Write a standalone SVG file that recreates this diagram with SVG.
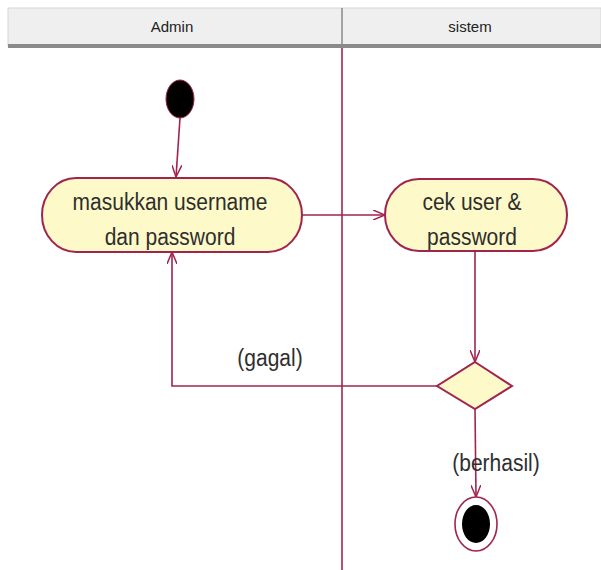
<svg xmlns="http://www.w3.org/2000/svg" width="601" height="570" viewBox="0 0 601 570">
  <style>
    .line { fill: none; stroke: #a1244f; stroke-width: 1.6; }
    .act { fill: #fdf9c9; stroke: #a1244f; stroke-width: 2; }
    .lbl { font-family: "Liberation Sans", Arial, sans-serif; font-size: 21px; fill: #2e2e2e; text-anchor: middle; }
    .hdr { font-family: "Liberation Sans", Arial, sans-serif; font-size: 15px; fill: #222; text-anchor: middle; }
  </style>
  <defs>
    <marker id="open" viewBox="0 0 12 10" refX="12" refY="5" markerWidth="12" markerHeight="10" markerUnits="userSpaceOnUse" orient="auto">
      <path d="M0,0 L12,5 L0,10" fill="none" stroke="#a1244f" stroke-width="1.5"/>
    </marker>
  </defs>
  <rect width="601" height="570" fill="#ffffff"/>

  <!-- swimlane header -->
  <g id="lanes">
    <rect x="8" y="8" width="593" height="38" fill="#efefef" stroke="#d6d6d6" stroke-width="1"/>
    <rect x="8" y="44" width="593" height="4" fill="#8a8a8a"/>
    <line x1="342" y1="8" x2="342" y2="46" stroke="#8a8a8a" stroke-width="1.5"/>
    <text class="hdr" x="172" y="32">Admin</text>
    <text class="hdr" x="470" y="32">sistem</text>
    <line class="line" x1="342" y1="48" x2="342" y2="570"/>
  </g>

  <!-- connectors -->
  <g id="connectors">
    <path class="line" d="M180,118 L176,177" marker-end="url(#open)"/>
    <path class="line" d="M302,215 L385,215" marker-end="url(#open)"/>
    <path class="line" d="M475,251 L475,362" marker-end="url(#open)"/>
    <path class="line" d="M437,386 L172,386 L172,252" marker-end="url(#open)"/>
    <path class="line" d="M475,408 L476,497" marker-end="url(#open)"/>
    <text class="lbl" transform="translate(270,366) scale(1,1.15)">(gagal)</text>
    <text class="lbl" transform="translate(496,471) scale(1,1.15)">(berhasil)</text>
  </g>

  <g id="start">
    <ellipse cx="180" cy="99" rx="14" ry="19" fill="#000" stroke="#a1244f" stroke-width="1"/>
  </g>

  <g id="masukkan">
    <rect class="act" x="42" y="178" width="260" height="74" rx="34" ry="37"/>
    <text class="lbl" transform="translate(170,210) scale(1,1.15)">masukkan username</text>
    <text class="lbl" transform="translate(170,245) scale(1,1.15)">dan password</text>
  </g>

  <g id="cek">
    <rect class="act" x="385" y="179" width="182" height="72" rx="34" ry="36"/>
    <text class="lbl" transform="translate(472,210) scale(1,1.15)">cek user &amp;</text>
    <text class="lbl" transform="translate(472,245) scale(1,1.15)">password</text>
  </g>

  <g id="decision">
    <polygon class="act" points="475,362 512,386 475,409 437,386"/>
  </g>

  <g id="end">
    <ellipse cx="476" cy="524" rx="21" ry="27" fill="#fff" stroke="#a1244f" stroke-width="1.6"/>
    <ellipse cx="476" cy="524" rx="14" ry="19" fill="#000"/>
  </g>
</svg>
